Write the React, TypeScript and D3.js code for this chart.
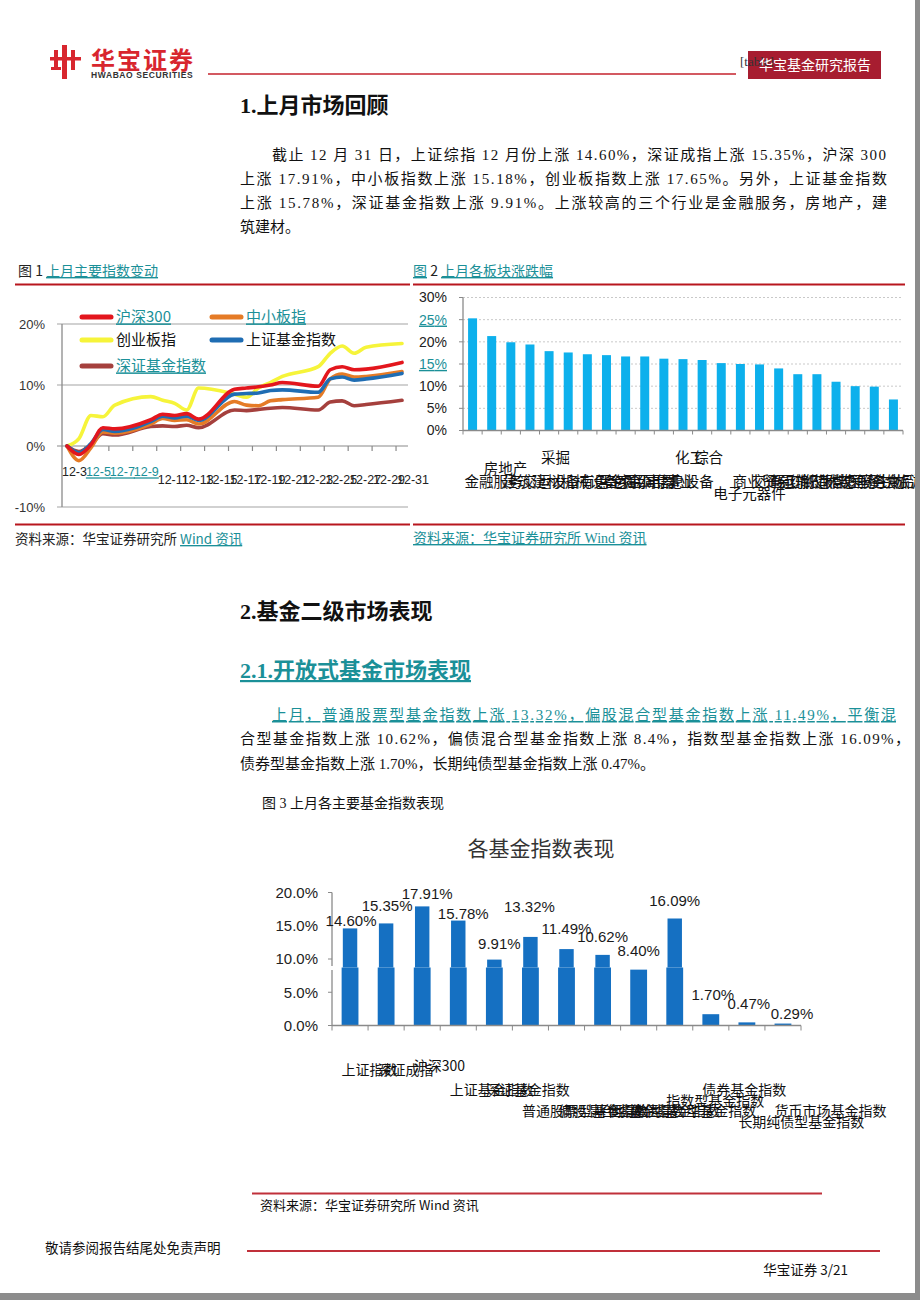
import React from 'react';
import * as d3 from 'd3';

// ---------- Chart 1 data: 上月主要指数变动 (%), trading days of December ----------
const tradeDays = [3, 4, 5, 6, 7, 10, 11, 12, 13, 14, 17, 18, 19, 20, 21, 24, 25, 26, 27, 28, 31];
const hs300 = [0, -1.4, 0.2, 3.0, 2.8, 4.3, 5.2, 5.0, 5.3, 4.4, 9.3, 9.5, 9.7, 10.0, 10.4, 9.8, 12.5, 13.0, 12.5, 12.6, 13.7];
const zxb = [0, -2.4, -0.3, 2.3, 2.1, 3.6, 4.5, 4.2, 4.3, 3.6, 7.3, 6.7, 6.6, 7.4, 7.6, 8.0, 11.0, 11.8, 11.3, 11.4, 12.2];
const cyb = [0, 1.2, 5.0, 4.8, 6.7, 8.1, 7.5, 7.0, 5.9, 9.5, 8.5, 8.0, 9.5, 10.4, 11.4, 13.0, 15.2, 16.4, 15.2, 16.2, 16.8];
const shFund = [0, -1.1, 0.4, 2.7, 2.4, 4.0, 4.9, 4.6, 4.9, 4.2, 8.5, 8.6, 8.7, 9.1, 9.2, 8.8, 11.0, 11.3, 10.8, 11.0, 11.9];
const szFund = [0, -0.9, 0.2, 2.0, 1.8, 3.2, 3.3, 3.2, 3.4, 3.0, 5.9, 5.8, 6.0, 6.2, 6.3, 5.9, 7.2, 7.4, 6.6, 6.8, 7.5];
const chart1DayLabels = ['12-3', '12-5', '12-7', '12-9', '12-11', '12-13', '12-15', '12-17', '12-19', '12-21', '12-23', '12-25', '12-27', '12-29', '12-31'];
const chart1LabelDays = [3, 5, 7, 9, 11, 13, 15, 17, 19, 21, 23, 25, 27, 29, 31];
const chart1YTicks = [20, 10, 0, -10];

// ---------- Chart 2 data: 上月各板块涨跌幅 (%) ----------
const sectors = ['金融服务', '房地产', '建筑建材', '交运设备', '采掘', '机械设备', '有色金属', '黑色金属', '家用电器', '公用事业', '信息设备', '化工', '综合', '电子元器件', '商业贸易', '交通运输', '轻工制造', '纺织服装', '农林牧渔', '信息服务', '医药生物', '餐饮旅游', '食品饮料'];
const sectorChg = [25.3, 21.3, 19.9, 19.4, 17.9, 17.6, 17.2, 17.0, 16.7, 16.7, 16.2, 16.1, 15.9, 15.2, 15.0, 14.9, 14.0, 12.7, 12.7, 11.0, 10.0, 9.9, 7.0];
const chart2YTicks = [0, 5, 10, 15, 20, 25, 30];

// ---------- Chart 3 data: 各基金指数表现 (%) ----------
const fundNames = ['上证指数', '深证成指', '沪深300', '上证基金指数', '深证基金指数', '普通股票型基金指数', '偏股混合型基金指数', '平衡混合型基金指数', '偏债混合型基金指数', '指数型基金指数', '债券基金指数', '长期纯债型基金指数', '货币市场基金指数'];
const fundChg = [14.60, 15.35, 17.91, 15.78, 9.91, 13.32, 11.49, 10.62, 8.40, 16.09, 1.70, 0.47, 0.29];
const chart3YTicks = [0, 5, 10, 15, 20];

// ---------- styles ----------
const TEAL = '#1b9098';
const DIV_RED = '#b8161e';
const SANS = '"Liberation Sans", Arial, "Noto Sans CJK SC", sans-serif';
const CJK = '"Noto Sans CJK SC", "Liberation Sans", sans-serif';
const SERIF = '"Liberation Serif", "Times New Roman", "Noto Sans CJK SC", serif';

function Chart1() {
  const x = d3.scaleLinear().domain([2.5, 31.5]).range([61, 408]);
  const y = d3.scaleLinear().domain([-10, 20]).range([507, 324]);
  const line = d3
    .line<number>()
    .x((_, i) => x(tradeDays[i]))
    .y((d) => y(d))
    .curve(d3.curveMonotoneX);
  const drawOrder = [
    { data: cyb, color: '#f6f43a' },
    { data: szFund, color: '#a5403d' },
    { data: zxb, color: '#e57b26' },
    { data: shFund, color: '#1f6db3' },
    { data: hs300, color: '#e3161d' },
  ];
  const legend = [
    { name: '沪深300', color: '#e3161d', lx: 82, ly: 317, teal: true },
    { name: '中小板指', color: '#e57b26', lx: 212, ly: 317, teal: true },
    { name: '创业板指', color: '#f6f43a', lx: 82, ly: 340, teal: false },
    { name: '上证基金指数', color: '#1f6db3', lx: 212, ly: 340, teal: false },
    { name: '深证基金指数', color: '#a5403d', lx: 82, ly: 366, teal: true },
  ];
  const tickBoundaries = d3.range(4.5, 31, 2);
  return (
    <g>
      <text x={18} y={276} fontFamily={CJK} fontSize={14} fill="#222">
        图 1 <tspan fill={TEAL} textDecoration="underline">上月主要指数变动</tspan>
      </text>
      <line x1={15} x2={410} y1={284.5} y2={284.5} stroke={DIV_RED} strokeWidth={2} />
      {chart1YTicks.map((t) => (
        <line key={'g' + t} x1={57} x2={408} y1={y(t)} y2={y(t)} stroke={t === 0 ? '#8a8a8a' : '#a3a3a3'} strokeWidth={1.2} />
      ))}
      <line x1={62} x2={62} y1={y(20)} y2={y(-10)} stroke="#8a8a8a" strokeWidth={1.3} />
      {tickBoundaries.map((b) => (
        <line key={'t' + b} x1={x(b)} x2={x(b)} y1={y(0)} y2={y(0) + 5} stroke="#8a8a8a" strokeWidth={1.2} />
      ))}
      {chart1YTicks.map((t) => (
        <text key={'yl' + t} x={45} y={y(t)} dy="0.35em" textAnchor="end" fontFamily={SANS} fontSize={13} fill="#333">
          {t}%
        </text>
      ))}
      {drawOrder.map((s, i) => (
        <path key={'s' + i} d={line(s.data) || ''} fill="none" stroke={s.color} strokeWidth={3.6} strokeLinejoin="round" strokeLinecap="round" />
      ))}
      {legend.map((l) => (
        <g key={l.name}>
          <line x1={l.lx} x2={l.lx + 29} y1={l.ly} y2={l.ly} stroke={l.color} strokeWidth={5} strokeLinecap="round" />
          <text x={l.lx + 34} y={l.ly} dy="0.36em" fontFamily={CJK} fontSize={15} fill={l.teal ? TEAL : '#111'} textDecoration={l.teal ? 'underline' : undefined}>
            {l.name}
          </text>
        </g>
      ))}
      {chart1DayLabels.map((lab, i) => {
        const teal = i >= 1 && i <= 3;
        return (
          <text
            key={lab}
            x={x(chart1LabelDays[i]) - 5}
            y={i < 4 ? 472 : 480}
            dy="0.35em"
            fontFamily={SANS}
            fontSize={12.5}
            fill={teal ? TEAL : '#222'}
            textDecoration={teal ? 'underline' : undefined}
          >
            {lab}
          </text>
        );
      })}
      <line x1={15} x2={410} y1={524.5} y2={524.5} stroke={DIV_RED} strokeWidth={2} />
      <text x={15} y={544} fontFamily={CJK} fontSize={13.5} fill="#222">
        资料来源：华宝证券研究所{'  '}
        <tspan fill={TEAL} textDecoration="underline">Wind 资讯</tspan>
      </text>
    </g>
  );
}

function Chart2() {
  const x = d3.scaleBand<string>().domain(sectors).range([463, 903]).paddingInner(0.53).paddingOuter(0.265);
  const y = d3.scaleLinear().domain([0, 30]).range([430.5, 297.5]);
  const step = x.step();
  const labelLevel: Record<number, number> = { 1: -13, 4: -24, 11: -24, 12: -24, 13: 12 };
  return (
    <g>
      <text x={413} y={276} fontFamily={CJK} fontSize={14} fill="#222">
        <tspan fill={TEAL} textDecoration="underline">图</tspan> 2{' '}
        <tspan fill={TEAL} textDecoration="underline">上月各板块涨跌幅</tspan>
      </text>
      <line x1={413} x2={905} y1={284.5} y2={284.5} stroke={DIV_RED} strokeWidth={2} />
      {chart2YTicks.filter((t) => t > 0).map((t) => (
        <line key={'g' + t} x1={463} x2={903} y1={y(t)} y2={y(t)} stroke="#c9c9c9" strokeWidth={1} strokeDasharray="2,2" />
      ))}
      {chart2YTicks.map((t) => (
        <g key={'yt' + t}>
          <line x1={459} x2={463} y1={y(t)} y2={y(t)} stroke="#8a8a8a" />
          <text
            x={447}
            y={y(t)}
            dy="0.35em"
            textAnchor="end"
            fontFamily={SANS}
            fontSize={14}
            fill={t === 25 || t === 15 ? TEAL : '#222'}
            textDecoration={t === 25 || t === 15 ? 'underline' : undefined}
          >
            {t}%
          </text>
        </g>
      ))}
      {sectors.map((s, i) => (
        <rect key={'b' + s} x={x(s)} y={y(sectorChg[i])} width={x.bandwidth()} height={y(0) - y(sectorChg[i])} fill="#0db0ec" />
      ))}
      <line x1={463} x2={463} y1={y(30)} y2={y(0)} stroke="#8a8a8a" strokeWidth={1.3} />
      <line x1={463} x2={903} y1={y(0)} y2={y(0)} stroke="#8a8a8a" strokeWidth={1.3} />
      {d3.range(sectors.length + 1).map((k) => (
        <line key={'xt' + k} x1={463 + k * step} x2={463 + k * step} y1={y(0)} y2={y(0) + 4} stroke="#8a8a8a" />
      ))}
      {sectors.map((s, i) => (
        <text
          key={'l' + s}
          x={(x(s) as number) + x.bandwidth() / 2 - 8}
          y={482 + (labelLevel[i] || 0)}
          dy="0.35em"
          fontFamily={CJK}
          fontSize={14.5}
          fill="#111"
        >
          {s}
        </text>
      ))}
      <line x1={413} x2={905} y1={524.5} y2={524.5} stroke={DIV_RED} strokeWidth={2} />
      <text x={413} y={543} fontFamily={SERIF} fontSize={14} fill={TEAL} textDecoration="underline">
        资料来源：华宝证券研究所 Wind 资讯
      </text>
    </g>
  );
}

function Chart3() {
  const x = d3.scaleBand<string>().domain(fundNames).range([332, 801]).paddingInner(0.6).paddingOuter(0.3);
  const y = d3.scaleLinear().domain([0, 20]).range([1025.5, 892.5]);
  const bw = x.bandwidth();
  const step = x.step();
  const breakY = 967.5;
  const nudge = [[1, 10], [1, 0], [5, 5], [5, 11], [5, 2], [-1, -12], [0, -2], [0, 0], [0, -1], [0, 0], [2, -1], [2, -1], [9, 8]];
  const level = [0, 0, -4, 20, 20, 41, 41, 41, 41, 31, 20, 52, 41];
  return (
    <g>
      <text x={541} y={849} dy="0.35em" textAnchor="middle" fontFamily={CJK} fontSize={21} fill="#333">
        各基金指数表现
      </text>
      {chart3YTicks.map((t) => (
        <g key={'yt' + t}>
          <line x1={328} x2={332} y1={y(t)} y2={y(t)} stroke="#8a8a8a" />
          <text x={318} y={y(t)} dy="0.35em" textAnchor="end" fontFamily={SANS} fontSize={15} fill="#222">
            {t.toFixed(1)}%
          </text>
        </g>
      ))}
      {fundNames.map((f, i) => {
        const cx = (x(f) as number) + bw / 2;
        const top = y(fundChg[i]);
        const lowTop = Math.max(top, breakY);
        return (
          <g key={'b' + f}>
            <rect x={cx - bw / 2 - 1.2} y={lowTop} width={bw + 2.4} height={y(0) - lowTop} fill="#1570c2" />
            {top < breakY && <rect x={cx - bw / 2} y={top} width={bw} height={breakY - top} fill="#1570c2" />}
          </g>
        );
      })}
      <line x1={332} x2={332} y1={y(20)} y2={y(0)} stroke="#8a8a8a" strokeWidth={1.3} />
      <rect x={329} y={966} width={6} height={4} fill="#fff" />
      <line x1={332} x2={801} y1={y(0)} y2={y(0)} stroke="#8a8a8a" strokeWidth={1.3} />
      {d3.range(fundNames.length + 1).map((k) => (
        <line key={'xt' + k} x1={332 + k * step} x2={332 + k * step} y1={y(0)} y2={y(0) + 5} stroke="#8a8a8a" />
      ))}
      {fundNames.map((f, i) => {
        const cx = (x(f) as number) + bw / 2;
        return (
          <text
            key={'v' + f}
            x={cx + nudge[i][0]}
            y={y(fundChg[i]) - 18 + nudge[i][1]}
            dy="0.35em"
            textAnchor="middle"
            fontFamily={SANS}
            fontSize={15}
            fill="#1a1a1a"
          >
            {fundChg[i].toFixed(2)}%
          </text>
        );
      })}
      {fundNames.map((f, i) => {
        const cx = (x(f) as number) + bw / 2;
        return (
          <text key={'n' + f} x={cx - 8.5} y={1070 + level[i]} dy="0.35em" fontFamily={CJK} fontSize={14} fill="#111">
            {f}
          </text>
        );
      })}
    </g>
  );
}

function Header() {
  return (
    <g>
      <g fill="#d8262e">
        <rect x={62} y={45} width={5} height={34} />
        <rect x={50} y={57} width={31} height={3.5} />
        <rect x={54} y={50} width={4} height={20} />
        <rect x={71} y={50} width={4} height={20} />
        <rect x={51} y={67} width={10} height={3} />
      </g>
      <text x={91} y={69} fontFamily={CJK} fontWeight="bold" fontSize={24} fill="#d8262e" letterSpacing={2}>
        华宝证券
      </text>
      <text x={91} y={78} fontFamily={SANS} fontWeight="bold" fontSize={8.5} fill="#333" letterSpacing={0.6}>
        HWABAO SECURITIES
      </text>
      <line x1={208} x2={736} y1={74} y2={74} stroke="#c4222c" strokeWidth={1.6} />
      <rect x={748} y={51} width={133} height={28} fill="#a71d30" />
      <text x={740} y={66} fontFamily={SERIF} fontSize={13} fill="#333">
        [table]
      </text>
      <text x={815} y={65} dy="0.35em" textAnchor="middle" fontFamily={CJK} fontSize={14} fill="#fff">
        华宝基金研究报告
      </text>
    </g>
  );
}

function BodyText() {
  return (
    <g fontFamily={SERIF} fontSize={15} fill="#111">
      <text x={240} y={113} fontFamily={SERIF} fontSize={22} fontWeight="bold">
        1.上月市场回顾
      </text>
      <text x={272} y={160} textLength={614} lengthAdjust="spacing">
        截止 12 月 31 日，上证综指 12 月份上涨 14.60%，深证成指上涨 15.35%，沪深 300
      </text>
      <text x={240} y={184} textLength={647} lengthAdjust="spacing">
        上涨 17.91%，中小板指数上涨 15.18%，创业板指数上涨 17.65%。另外，上证基金指数
      </text>
      <text x={240} y={208} textLength={647} lengthAdjust="spacing">
        上涨 15.78%，深证基金指数上涨 9.91%。上涨较高的三个行业是金融服务，房地产，建
      </text>
      <text x={240} y={232}>筑建材。</text>

      <text x={240} y={619} fontSize={22} fontWeight="bold">
        2.基金二级市场表现
      </text>
      <text x={240} y={678} fontSize={22} fontWeight="bold" fill={TEAL} textDecoration="underline">
        2.1.开放式基金市场表现
      </text>
      <text x={272} y={720} textLength={624} lengthAdjust="spacing" fill={TEAL} textDecoration="underline">
        上月，普通股票型基金指数上涨 13.32%，偏股混合型基金指数上涨 11.49%，平衡混
      </text>
      <text x={240} y={744} textLength={670} lengthAdjust="spacing">
        合型基金指数上涨 10.62%，偏债混合型基金指数上涨 8.4%，指数型基金指数上涨 16.09%，
      </text>
      <text x={240} y={769}>债券型基金指数上涨 1.70%，长期纯债型基金指数上涨 0.47%。</text>
      <text x={262} y={808} fontSize={14}>
        图 3 上月各主要基金指数表现
      </text>
    </g>
  );
}

function Footer() {
  return (
    <g>
      <line x1={252} x2={822} y1={1193.5} y2={1193.5} stroke="#c0303a" strokeWidth={2} />
      <text x={260} y={1210} fontFamily={CJK} fontSize={13} fill="#111">
        资料来源：华宝证券研究所{'  '}Wind 资讯
      </text>
      <text x={45} y={1253} fontFamily={CJK} fontSize={13.5} fill="#111">
        敬请参阅报告结尾处免责声明
      </text>
      <line x1={247} x2={880} y1={1251} y2={1251} stroke="#c0303a" strokeWidth={2} />
      <text x={848} y={1275} textAnchor="end" fontFamily={CJK} fontSize={13.5} fill="#111">
        华宝证券 3/21
      </text>
      <rect x={915} y={0} width={5} height={1300} fill="#8c8c8c" />
      <rect x={0} y={1293} width={920} height={7} fill="#8c8c8c" />
    </g>
  );
}

export default function App() {
  return (
    <svg
      width={920}
      height={1300}
      viewBox="0 0 920 1300"
      style={{ position: 'absolute', left: 0, top: 0, background: '#fff', display: 'block' }}
    >
      <rect x={0} y={0} width={920} height={1300} fill="#fff" />
      <Header />
      <BodyText />
      <Chart1 />
      <Chart2 />
      <Chart3 />
      <Footer />
    </svg>
  );
}
